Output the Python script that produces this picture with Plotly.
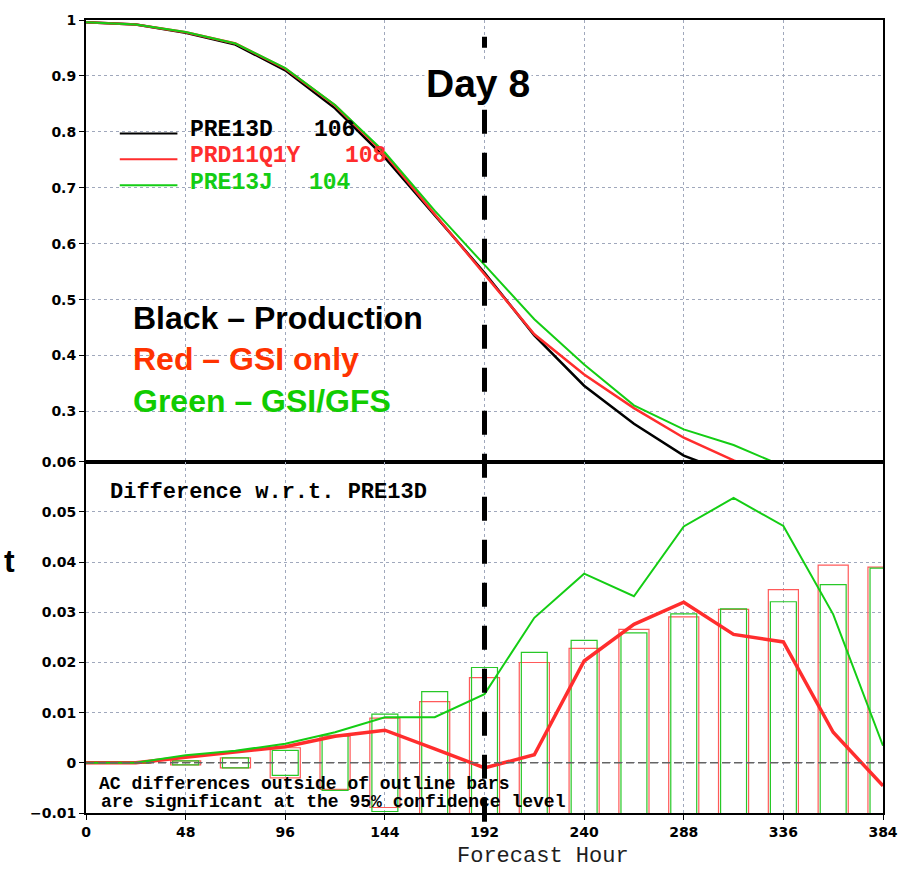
import plotly.graph_objects as go

# ---------------- data ----------------
hours = [0, 24, 48, 72, 96, 120, 144, 168, 192, 216, 240, 264, 288, 312, 336, 360, 384]

# Anomaly correlation (top panel)
ac_pre13d = [0.996, 0.992, 0.977, 0.956, 0.910, 0.842, 0.754, 0.650, 0.548, 0.436, 0.346,
             0.278, 0.221, 0.187, 0.155, 0.130, 0.110]
ac_prd11q1y = [0.996, 0.992, 0.978, 0.958, 0.913, 0.847, 0.760, 0.653, 0.547, 0.438, 0.366,
               0.306, 0.253, 0.2125, 0.179, 0.136, 0.105]
ac_pre13j = [0.996, 0.992, 0.9785, 0.958, 0.914, 0.848, 0.763, 0.659, 0.562, 0.465, 0.384,
             0.311, 0.268, 0.240, 0.202, 0.160, 0.113]

# Difference w.r.t. PRE13D (bottom panel)
diff_red = [0.0, 0.0, 0.0011, 0.0021, 0.0032, 0.0053, 0.0065, 0.0028, -0.0010, 0.0016, 0.0203,
            0.0276, 0.0320, 0.0256, 0.0241, 0.0061, -0.0046]
diff_green = [0.0, 0.0, 0.0015, 0.0024, 0.0038, 0.0061, 0.0091, 0.0091, 0.0137, 0.0289, 0.0377,
              0.0332, 0.0471, 0.0528, 0.0472, 0.0296, 0.0034]

# 95% confidence half-widths (outline bars, drawn from -c to +c)
bar_hours = [24, 48, 72, 96, 120, 144, 168, 192, 216, 240, 264, 288, 312, 336, 360, 384]
conf_red = [0.0001, 0.0004, 0.0010, 0.0030, 0.0053, 0.0089, 0.0122, 0.0170, 0.0200, 0.0228,
            0.0266, 0.0291, 0.0306, 0.0345, 0.0394, 0.0390]
conf_green = [0.0001, 0.0004, 0.0010, 0.0025, 0.0055, 0.0097, 0.0142, 0.0190, 0.0220, 0.0244,
              0.0259, 0.0297, 0.0307, 0.0321, 0.0355, 0.0388]

legend_names = ["PRE13D", "PRD11Q1Y", "PRE13J"]
legend_counts = ["106", "108", "104"]

top_ticks = [0.3, 0.4, 0.5, 0.6, 0.7, 0.8, 0.9, 1.0]
top_ticktext = ["0.3", "0.4", "0.5", "0.6", "0.7", "0.8", "0.9", "1"]
bot_ticks = [-0.01, 0.0, 0.01, 0.02, 0.03, 0.04, 0.05, 0.06]
bot_ticktext = ["\u22120.01", "0", "0.01", "0.02", "0.03", "0.04", "0.05", "0.06"]
x_ticks = [0, 48, 96, 144, 192, 240, 288, 336, 384]
DAY8_HOUR = 192

# ---------------- style ----------------
BLACK = "#000000"
RED = "rgb(255,45,45)"
GREEN = "rgb(20,205,20)"
RED_BAR = "rgb(255,90,90)"
GREEN_BAR = "rgb(40,200,40)"
GRID = "rgb(160,168,188)"
MONO = "Liberation Mono"
SANS = "Liberation Sans"

fig = go.Figure()

# top panel lines
fig.add_trace(go.Scatter(x=hours, y=ac_pre13d, mode="lines", line=dict(color=BLACK, width=2.5),
                         xaxis="x", yaxis="y", showlegend=False))
fig.add_trace(go.Scatter(x=hours, y=ac_prd11q1y, mode="lines", line=dict(color=RED, width=2.5),
                         xaxis="x", yaxis="y", showlegend=False))
fig.add_trace(go.Scatter(x=hours, y=ac_pre13j, mode="lines", line=dict(color=GREEN, width=2),
                         xaxis="x", yaxis="y", showlegend=False))

# bottom panel outline bars
fig.add_trace(go.Bar(x=bar_hours, y=[2 * c for c in conf_red], base=[-c for c in conf_red],
                     width=14.5, marker=dict(color="rgba(0,0,0,0)", line=dict(color=RED_BAR, width=1.2)),
                     xaxis="x2", yaxis="y2", showlegend=False))
fig.add_trace(go.Bar(x=bar_hours, y=[2 * c for c in conf_green], base=[-c for c in conf_green],
                     width=12.5, marker=dict(color="rgba(0,0,0,0)", line=dict(color=GREEN_BAR, width=1.2)),
                     xaxis="x2", yaxis="y2", showlegend=False))

# bottom panel difference lines
fig.add_trace(go.Scatter(x=hours, y=diff_red, mode="lines", line=dict(color=RED, width=3.5),
                         xaxis="x2", yaxis="y2", showlegend=False))
fig.add_trace(go.Scatter(x=hours, y=diff_green, mode="lines", line=dict(color=GREEN, width=2),
                         xaxis="x2", yaxis="y2", showlegend=False))

split = 0.4429
axis_common = dict(showline=True, linecolor=BLACK, linewidth=2, mirror=True,
                   showgrid=True, gridcolor=GRID, griddash="dot", gridwidth=1,
                   zeroline=False, ticks="outside", ticklen=5, tickcolor=BLACK,
                   tickfont=dict(family="DejaVu Sans", size=14, color=BLACK, weight="bold"))

fig.update_layout(
    width=910, height=870,
    margin=dict(l=86, r=22, t=16, b=57),
    paper_bgcolor="white", plot_bgcolor="white",
    barmode="overlay",
    xaxis=dict(axis_common, domain=[0, 1], range=[0, 384], tickvals=x_ticks,
               showticklabels=False, ticks="", anchor="y"),
    yaxis=dict(axis_common, domain=[split, 1], range=[0.21, 1.0], tickvals=top_ticks,
               ticktext=top_ticktext, anchor="x"),
    xaxis2=dict(axis_common, domain=[0, 1], range=[0, 384], tickvals=x_ticks, anchor="y2"),
    yaxis2=dict(axis_common, domain=[0, split], range=[-0.01, 0.06], tickvals=bot_ticks,
                ticktext=bot_ticktext, anchor="x2"),
)

shapes = []
# dashed zero line in difference panel
shapes.append(dict(type="line", xref="x2 domain", x0=0, x1=1, yref="y2", y0=0, y1=0,
                   line=dict(color="rgb(100,100,100)", width=1.5, dash="8px,4px"), layer="above"))
# Day 8 vertical dashed line
shapes.append(dict(type="line", xref="x", x0=DAY8_HOUR, x1=DAY8_HOUR, yref="paper", y0=-0.011, y1=0.979,
                   line=dict(color=BLACK, width=5, dash="24px,19px"), layer="above"))
# legend sample lines
legend_colors = [BLACK, RED, GREEN]
legend_line_y = [0.857, 0.8243, 0.7917]
for col, ly in zip(legend_colors, legend_line_y):
    shapes.append(dict(type="line", xref="paper", yref="paper", x0=0.0424, x1=0.1147, y0=ly, y1=ly,
                       line=dict(color=col, width=2)))
fig.update_layout(shapes=shapes)

ann = []
legend_text_y = [0.8607, 0.8281, 0.7949]
count_x = [0.283, 0.323, 0.2768]
for name, cnt, col, ty, cx in zip(legend_names, legend_counts, legend_colors, legend_text_y, count_x):
    ann.append(dict(text=name, x=0.128, y=ty, xref="paper", yref="paper", xanchor="left", yanchor="middle",
                    showarrow=False, font=dict(family=MONO, size=23, color=col, weight="bold")))
    ann.append(dict(text=cnt, x=cx, y=ty, xref="paper", yref="paper", xanchor="left", yanchor="middle",
                    showarrow=False, font=dict(family=MONO, size=23, color=col, weight="bold")))

def note(text, x, y, font, xanchor="left", **kw):
    return dict(text=text, x=x, y=y, xref="paper", yref="paper", xanchor=xanchor, yanchor="middle",
                showarrow=False, font=font, **kw)

ann.append(note("Day 8", 0.4913, 0.9200, dict(family=SANS, size=39, color=BLACK, weight="bold"),
                xanchor="center", bgcolor="white"))
ann.append(note("Black \u2013 Production", 0.0565, 0.6236, dict(family=SANS, size=32, color=BLACK, weight="bold")))
ann.append(note("Red \u2013 GSI only", 0.0565, 0.5721, dict(family=SANS, size=32, color="rgb(255,51,0)", weight="bold")))
ann.append(note("Green \u2013 GSI/GFS", 0.0565, 0.5194, dict(family=SANS, size=32, color="rgb(17,204,0)", weight="bold")))
ann.append(note("Difference w.r.t. PRE13D", 0.028, 0.4044, dict(family=MONO, size=22, color=BLACK, weight="bold")))
ann.append(note("AC differences outside of outline bars", 0.014, 0.036,
                dict(family=MONO, size=18, color=BLACK, weight="bold")))
ann.append(note("are significant at the 95% confidence level", 0.016, 0.0142,
                dict(family=MONO, size=18, color=BLACK, weight="bold")))
ann.append(note("Forecast Hour", 0.5736, -0.0545, dict(family=MONO, size=22, color="rgb(30,30,30)"),
                xanchor="center"))
ann.append(note("t", -0.106, 0.3174, dict(family=SANS, size=32, color=BLACK, weight="bold")))
fig.update_layout(annotations=ann)

fig.write_html("out.html")
